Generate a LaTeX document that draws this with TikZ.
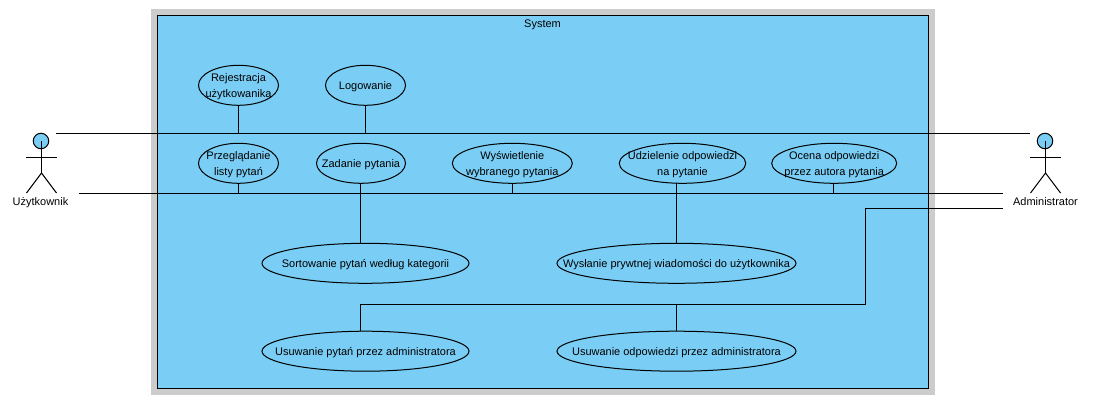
\documentclass[tikz,border=0pt]{standalone}
\usepackage{fontspec}
\setmainfont{Liberation Sans}
\usetikzlibrary{shapes.geometric}
\definecolor{ucblue}{HTML}{7ACEF5}
\definecolor{framegray}{HTML}{CCCCCC}
\tikzset{
	usecase/.style={ellipse, draw, fill=ucblue, align=center, inner sep=-40pt, outer sep=0pt, text depth=-0.8pt, minimum width=#1*0.02cm, minimum height=0.8cm},
	actorhead/.style={circle, draw, fill=ucblue, inner sep=0pt, outer sep=0pt, minimum size=0.31cm},
	actorname/.style={inner sep=0pt}
}
\begin{document}
\begin{tikzpicture}[x=0.02cm, y=-0.02cm, line width=0.57pt, font=\fontsize{6.25}{9.1}\selectfont]
			\useasboundingbox (0,0) rectangle (1103,412);

			% system frame
			\node (frame)[fill=framegray, inner sep=0pt, minimum width=15.68cm, minimum height=7.72cm] at (543,202) {};
			\node (system)[draw, fill=ucblue, inner sep=0pt, outer sep=0pt, minimum width=15.43cm, minimum height=7.46cm] at (543,201.7) {};
			\node (systemname)[inner sep=0pt] at (542.5,24.5) {System};

			% use cases
			\node (rej)[usecase=80] at (238.5,85.3) {Rejestracja\\użytkowanika};
			\node (log)[usecase=80] at (365.5,85.3) {Logowanie};
			\node (prz)[usecase=80] at (238.5,163.3) {Przeglądanie\\listy pytań};
			\node (zad)[usecase=89] at (361,163.3) {Zadanie pytania};
			\node (wys)[usecase=120] at (512.3,163.3) {Wyświetlenie\\wybranego pytania};
			\node (udz)[usecase=126.5] at (682.5,163.3) {Udzielenie odpowiedzi\\na pytanie};
			\node (oce)[usecase=125] at (834.2,163.3) {Ocena odpowiedzi\\przez autora pytania};
			\node (sor)[usecase=207] at (365.5,263.3) {Sortowanie pytań według kategorii};
			\node (wia)[usecase=239] at (676.5,263.3) {Wysłanie prywtnej wiadomości do użytkownika};
			\node (uspyt)[usecase=207] at (365.5,351.2) {Usuwanie pytań przez administratora};
			\node (usodp)[usecase=239] at (676.5,351.2) {Usuwanie odpowiedzi przez administratora};

			% actors
			\node (userhead)[actorhead] at (41,141) {};
			\coordinate (userhip) at (41.5,173);
			\coordinate (userarml) at (26,157.5);
			\coordinate (userarmr) at (56.5,157.5);
			\coordinate (userlegl) at (26.5,193);
			\coordinate (userlegr) at (56.5,193);
			\node (username)[actorname] at (40.5,202.3) {Użytkownik};
			\draw (userhead -| userhip) -- (userhip);
			\draw (userarml) -- (userarmr);
			\draw (userlegl) -- (userhip) -- (userlegr);

			\node (adminhead)[actorhead] at (1045,141) {};
			\coordinate (adminhip) at (1045.5,173);
			\coordinate (adminarml) at (1030,157.5);
			\coordinate (adminarmr) at (1060.5,157.5);
			\coordinate (adminlegl) at (1030.5,193);
			\coordinate (adminlegr) at (1060.5,193);
			\node (adminname)[actorname] at (1045.5,201.5) {Administrator};
			\draw (adminhead -| adminhip) -- (adminhip);
			\draw (adminarml) -- (adminarmr);
			\draw (adminlegl) -- (adminhip) -- (adminlegr);

			% connectors
			\coordinate (usera) at (56,133.5);
			\coordinate (admina) at (1030,133.5);
			\coordinate (userb) at (79,193.5);
			\coordinate (adminb) at (1003,193.5);
			\coordinate (adminc) at (1003,208.5);
			\coordinate (benda) at (865.5,304.5);
			\coordinate (bendb) at (360.5,304.5);
			\coordinate (bendc) at (676.5,304.5);
			\coordinate (wysx) at (512.5,193.5);
			\coordinate (ocex) at (833.5,193.5);
			\draw (usera) -- (admina);
			\draw (userb) -- (adminb);
			\draw (rej.south) -- (rej.south |- usera);
			\draw (log.south) -- (log.south |- usera);
			\draw (prz.south) -- (prz.south |- userb);
			\draw (wysx |- wys.south) -- (wysx);
			\draw (ocex |- oce.south) -- (ocex);
			\draw (wia.north |- udz.south) -- (wia.north);
			\draw (bendb |- zad.south) -- (bendb |- sor.north);
			\draw (adminc) -| (benda) -- (bendb) -- (bendb |- uspyt.north);
			\draw (bendc) -- (usodp.north);
		\end{tikzpicture}
\end{document}
